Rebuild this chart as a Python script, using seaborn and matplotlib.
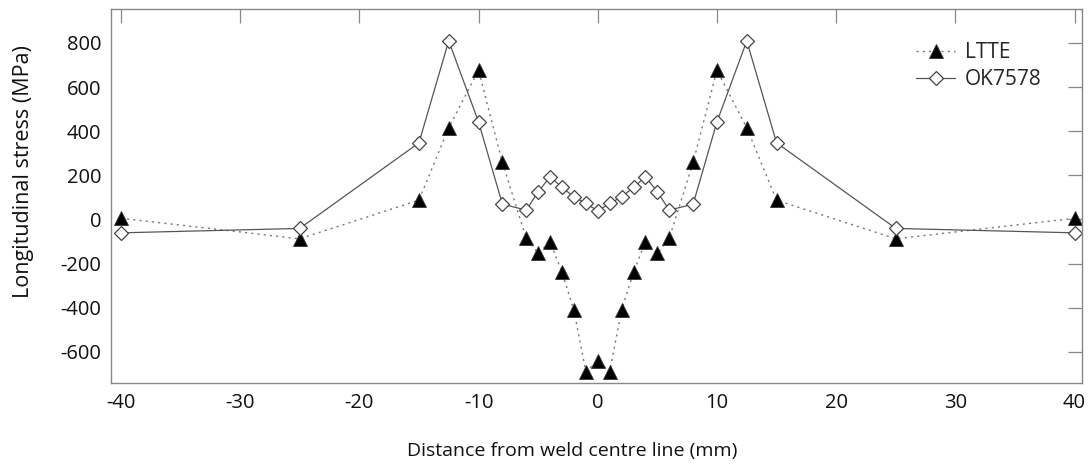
import matplotlib
matplotlib.use("Agg")
import matplotlib.pyplot as plt
import seaborn as sns
import pandas as pd

# Distance from weld centre line (mm)
distance = [-40, -25, -15, -12.5, -10, -8, -6, -5, -4, -3, -2, -1, 0,
            1, 2, 3, 4, 5, 6, 8, 10, 12.5, 15, 25, 40]

# Longitudinal stress (MPa)
ltte = [5, -88, 87, 415, 676, 258, -86, -154, -101, -240, -411, -690, -640,
        -690, -411, -240, -101, -154, -86, 258, 676, 415, 87, -88, 5]
ok7578 = [-61, -41, 347, 809, 442, 69, 42, 125, 193, 145, 102, 72, 39,
          72, 102, 145, 193, 125, 42, 69, 442, 809, 347, -41, -61]

df = pd.DataFrame({"distance": distance, "LTTE": ltte, "OK7578": ok7578})

sns.set_style("white")
plt.rcParams["font.family"] = ["Open Sans", "DejaVu Sans"]
plt.rcParams["axes.unicode_minus"] = False

fig = plt.figure(figsize=(10.9, 4.68), dpi=100)
ax = fig.add_axes([0.1016, 0.181, 0.8914, 0.799])

sns.lineplot(data=df, x="distance", y="LTTE", ax=ax, sort=False,
             color="#777777", linewidth=1.0, linestyle=(0, (1.5, 3)),
             marker="^", markersize=10, markerfacecolor="black",
             markeredgecolor="#333333", markeredgewidth=0.6, label="LTTE")
sns.lineplot(data=df, x="distance", y="OK7578", ax=ax, sort=False,
             color="#555555", linewidth=0.9,
             marker="D", markersize=7.5, markerfacecolor="white",
             markeredgecolor="#444444", markeredgewidth=0.9, label="OK7578")

ax.set_xlim(-40.85, 40.65)
ax.set_ylim(-743, 952)
ax.set_xticks([-40, -30, -20, -10, 0, 10, 20, 30, 40])
ax.set_yticks([-600, -400, -200, 0, 200, 400, 600, 800])

for side in ax.spines.values():
    side.set_color("#888888")
    side.set_linewidth(1.0)
ax.tick_params(direction="in", length=10, width=0.9, color="#888888",
               top=True, right=True, labelsize=14.5, labelcolor="#111111",
               pad=7)

ax.set_xlabel("Distance from weld centre line (mm)", fontsize=14,
              color="#111111")
ax.xaxis.set_label_coords(0.475, -0.158)
ax.set_ylabel("Longitudinal stress (MPa)", fontsize=15.5, color="#111111")
ax.yaxis.set_label_coords(-0.079, 0.565)

ax.legend(loc="upper left", bbox_to_anchor=(0.82, 0.935), frameon=False,
          fontsize=15, handlelength=1.9, handletextpad=0.45,
          labelspacing=0.3, borderaxespad=0)

fig.savefig("out.png", dpi=100)
